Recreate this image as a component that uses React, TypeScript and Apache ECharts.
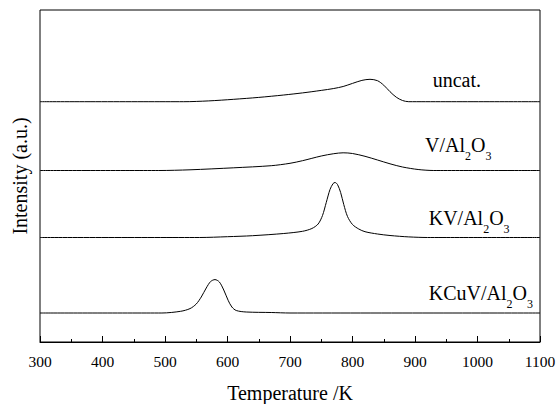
import React, { useEffect, useRef } from "react";
import * as echarts from "echarts";

// Temperature-programmed profiles: [temperature K, signal above baseline (a.u.)]
const uncat: [number, number][] = [
  [300, 0], [530, 0], [570, 0.8], [610, 2.4], [650, 4.3], [690, 6.7], [720, 8.8],
  [750, 11.3], [770, 13.2], [785, 15.2], [800, 18.3], [815, 21.3], [828, 22.4],
  [840, 21], [850, 16.5], [860, 10], [870, 4.5], [880, 1.2], [890, 0], [1100, 0],
];
const vAl2O3: [number, number][] = [
  [300, 0], [490, 0], [540, 0.7], [610, 2.7], [670, 4.8], [700, 7.2], [720, 9.8],
  [750, 14.5], [770, 16.8], [785, 17.7], [800, 17], [820, 14.2], [840, 10.5], [860, 6.7],
  [880, 3.5], [905, 1], [930, 0], [1100, 0],
];
const kvAl2O3: [number, number][] = [
  [300, 0], [555, 0], [600, 0.8], [640, 1.8], [690, 4], [720, 6.2], [735, 9],
  [745, 13.5], [752, 22], [758, 35], [764, 48], [769, 54], [772, 55], [776, 53],
  [781, 45], [786, 33], [792, 21], [800, 13], [810, 8.5], [820, 5.8], [840, 3.5],
  [860, 2], [890, 0.6], [920, 0], [1100, 0],
];
const kcuvAl2O3: [number, number][] = [
  [300, 0], [495, 0], [525, 1.7], [540, 4.4], [550, 9], [558, 16], [566, 25],
  [573, 31.5], [580, 33.4], [587, 31], [594, 23], [601, 12.7], [607, 6],
  [614, 2.5], [630, 1], [670, 0.5], [700, 0], [1100, 0],
];

// Vertical offsets that stack the traces
const offsets = { uncat: 240.3, v: 171.5, kv: 104.5, kcuv: 29 };

const xTicks = { min: 300, max: 1100, interval: 100 };

// Trace names split into [text, isSubscript] runs
const names: [string, boolean][][] = [
  [["uncat.", false]],
  [["V/Al", false], ["2", true], ["O", false], ["3", true]],
  [["KV/Al", false], ["2", true], ["O", false], ["3", true]],
  [["KCuV/Al", false], ["2", true], ["O", false], ["3", true]],
];

const FAMILY = "'Liberation Serif', 'Times New Roman', serif";
const MAIN = 20;
const SUB = 12;

let measureCtx: CanvasRenderingContext2D | null = null;
const measure = (text: string, size: number) => {
  if (!measureCtx) measureCtx = document.createElement("canvas").getContext("2d");
  if (!measureCtx) return text.length * size * 0.5;
  measureCtx.font = `${size}px ${FAMILY}`;
  return measureCtx.measureText(text).width;
};

// Label with subscripts, anchored at its left edge and main baseline
const label = (runs: [string, boolean][], x: number, baseline: number) => {
  let cx = x;
  const children = runs.map(([text, sub]) => {
    const size = sub ? SUB : MAIN;
    const base = sub ? baseline + 8 : baseline;
    const el = {
      type: "text",
      x: cx,
      y: base - 0.3375 * size,
      style: {
        text,
        fontFamily: FAMILY,
        fontSize: size,
        fill: "#000",
        align: "left",
        verticalAlign: "middle",
      },
    };
    cx += measure(text, size);
    return el;
  });
  return { type: "group", children };
};

function shift(d: [number, number][], off: number) {
  return d.map(([t, v]) => [t, v + off]);
}

export default function App() {
  const ref = useRef<HTMLDivElement>(null);

  useEffect(() => {
    if (!ref.current) return;
    const chart = echarts.init(ref.current, null, { renderer: "svg" });
    const line = (name: string, data: number[][]) => ({
      name,
      type: "line",
      data,
      smooth: 0.3,
      showSymbol: false,
      lineStyle: { color: "#000", width: 1 },
    });
    chart.setOption({
      animation: false,
      backgroundColor: "#fff",
      textStyle: { fontFamily: FAMILY },
      grid: {
        left: 40,
        right: 16,
        top: 10,
        bottom: 62,
        outerBoundsMode: "none",
        show: true,
        borderColor: "#000",
        borderWidth: 1,
      },
      xAxis: {
        type: "value",
        min: xTicks.min,
        max: xTicks.max,
        interval: xTicks.interval,
        name: "Temperature /K",
        nameLocation: "middle",
        nameGap: 41,
        nameTextStyle: { fontFamily: FAMILY, fontSize: 20, color: "#000" },
        axisLine: { lineStyle: { color: "#000", width: 1 } },
        axisTick: { inside: true, length: 6, lineStyle: { color: "#000" } },
        minorTick: { show: true, splitNumber: 2, length: 3, lineStyle: { color: "#000" } },
        splitLine: { show: false },
        axisLabel: {
          margin: 11,
          formatter: (v: number) => `{t|${v}}`,
          rich: { t: { fontFamily: FAMILY, fontSize: 15.5, color: "#000" } },
        },
      },
      yAxis: {
        type: "value",
        min: 0,
        max: 332,
        name: "Intensity (a.u.)",
        nameLocation: "middle",
        nameGap: 10,
        nameTextStyle: { fontFamily: FAMILY, fontSize: 20, color: "#000" },
        axisLine: { show: false },
        axisTick: { show: false },
        axisLabel: { show: false },
        splitLine: { show: false },
      },
      series: [
        line("uncat.", shift(uncat, offsets.uncat)),
        line("V/Al2O3", shift(vAl2O3, offsets.v)),
        line("KV/Al2O3", shift(kvAl2O3, offsets.kv)),
        line("KCuV/Al2O3", shift(kcuvAl2O3, offsets.kcuv)),
      ],
      graphic: [
        label(names[0], 432.7, 87),
        label(names[1], 425, 151.7),
        label(names[2], 428.7, 225),
        label(names[3], 428.7, 300),
      ],
    });
    return () => chart.dispose();
  }, []);

  return (
    <div
      ref={ref}
      style={{ position: "fixed", left: 0, top: 0, width: 556, height: 404 }}
    />
  );
}
